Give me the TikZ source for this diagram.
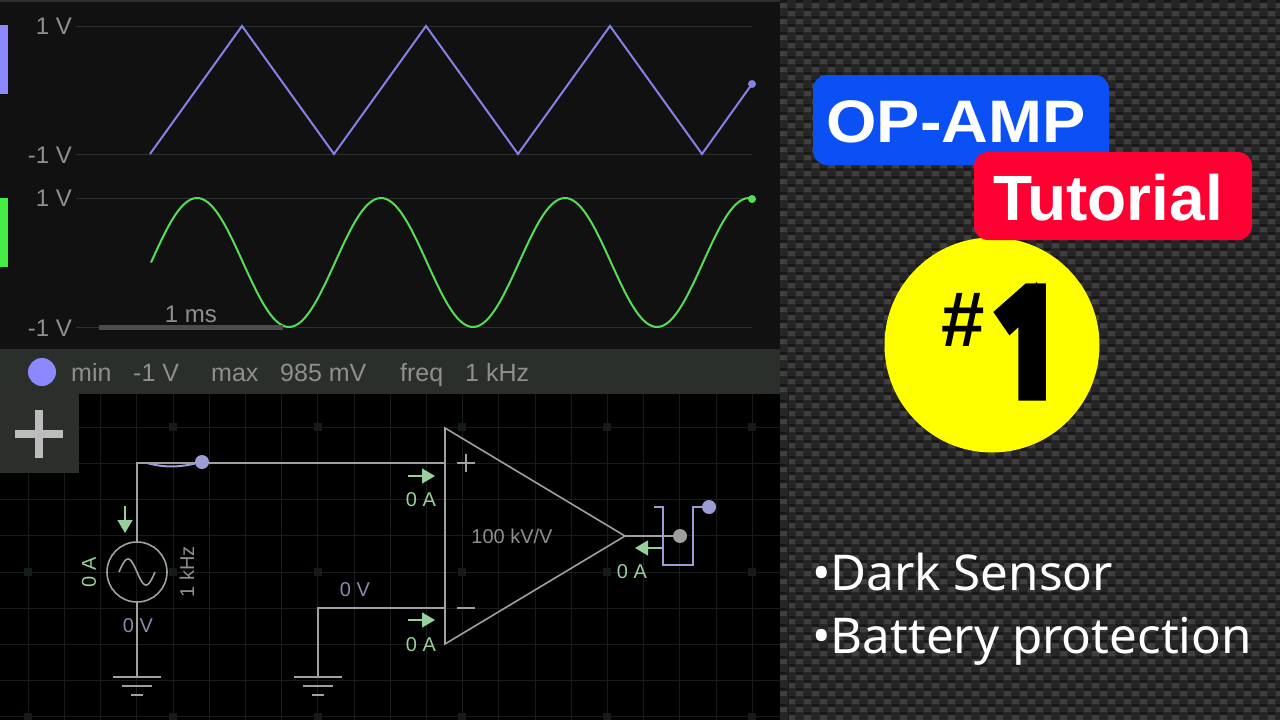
\documentclass[tikz,border=0pt]{standalone}
\usepackage{fontspec}
\setmainfont{Liberation Sans}
\newfontfamily\notofont{Noto Sans}
\newfontfamily\onefont[FakeBold=14]{Noto Sans}
\usetikzlibrary{arrows.meta}

\definecolor{scopebg}{HTML}{111111}
\definecolor{barbg}{HTML}{2B2F2C}
\definecolor{plusbg}{HTML}{2C2F2C}
\definecolor{gridln}{HTML}{191C19}
\definecolor{griddot}{HTML}{151B18}
\definecolor{scopeln}{HTML}{2E2E2E}
\definecolor{txtgray}{HTML}{8E908E}
\definecolor{wiregray}{HTML}{A0A0A0}
\definecolor{triwave}{HTML}{8482E6}
\definecolor{sinewave}{HTML}{55DD55}
\definecolor{tabpurple}{HTML}{8C88FF}
\definecolor{tabgreen}{HTML}{44EE44}
\definecolor{probe}{HTML}{9C9CD6}
\definecolor{probetxt}{HTML}{8A8AAE}
\definecolor{ampgreen}{HTML}{98D09C}
\definecolor{carbonA}{HTML}{262626}
\definecolor{carbonB}{HTML}{404040}
\definecolor{carbonC}{HTML}{181818}
\definecolor{badgeblue}{HTML}{0B50F5}
\definecolor{badgered}{HTML}{FF0033}
\definecolor{bigyellow}{HTML}{FFFF00}

\newcommand{\pxfont}[1]{\fontsize{#1}{#1}\selectfont}

\tikzset{
	wire/.style={draw=wiregray, line width=1.6pt},
	probewire/.style={draw=probe, line width=1.6pt},
	ampflow/.style={draw=ampgreen, fill=ampgreen, line width=1.2pt, -{Triangle[length=13pt,width=15pt]}},
	scopetxt/.style={inner sep=0pt, text=txtgray, font=\pxfont{24}},
	stattxt/.style={inner sep=0pt, anchor=base west, text=txtgray, font=\pxfont{25}},
	circtxt/.style={inner sep=0pt, text=txtgray, font=\pxfont{20}},
	amptxt/.style={inner sep=0pt, text=ampgreen, font=\pxfont{20}},
	volttxt/.style={inner sep=0pt, text=probetxt, font=\pxfont{20}},
	dot/.style={circle, inner sep=0pt, minimum size=14pt, fill=probe},
	groundln/.style={draw=wiregray, line width=1.6pt},
	listtxt/.style={inner sep=0pt, anchor=base west, text=white, font=\notofont\pxfont{49.3}},
}

\begin{document}
\begin{tikzpicture}[x=1pt, y=-1pt]
	\useasboundingbox (0,0) rectangle (1280,720);
	
	% carbon background
	\fill[carbonA] (780,0) rectangle (1280,720);
	\fill[carbonC] foreach \i in {0,...,31} { foreach \j in {0,...,90} {
		({780+16*\i+mod(\j,2)*8},{8*\j}) rectangle ++(7,3) }};
	\fill[carbonB] foreach \i in {0,...,31} { foreach \j in {0,...,90} {
		({780+16*\i+mod(\j,2)*8},{8*\j+3}) rectangle ++(7,5) }};
	
	% scope panels
	\fill[scopebg] (0,0) rectangle (780,349);
	\fill[scopeln] (0,0) rectangle (780,2);
	\fill[barbg] (0,349) rectangle (780,394);
	\fill[black] (0,394) rectangle (780,720);
	
	% grid of the circuit
	\foreach \i in {0,...,21} {
		\draw[gridln] ({28+36.2*\i},394) -- ({28+36.2*\i},720);
	}
	\foreach \j in {0,...,8} {
		\draw[gridln] (0,{427+36.2*\j}) -- (780,{427+36.2*\j});
	}
	\foreach \i in {0,...,5} {
		\foreach \j in {0,1,2} {
			\fill[griddot] ({28+144.8*\i-4},{427+144.8*\j-4}) rectangle ++(8,8);
		}
	}
	\fill[plusbg] (0,394) rectangle (79,473);
	\fill[white!68!plusbg] (15,430) rectangle (63,438);
	\fill[white!68!plusbg] (35,410) rectangle (43,458);
	
	% scope lines
	\foreach \y in {26,154,198,327} {
		\draw[scopeln] (76,\y) -- (752,\y);
	}
	\fill[tabpurple] (0,25) rectangle (8,94);
	\fill[tabgreen] (0,198) rectangle (8,267);
	\node[scopetxt, anchor=east] (lblA) at (72,26) {1 V};
	\node[scopetxt, anchor=east] (lblB) at (72,155) {-1 V};
	\node[scopetxt, anchor=east] (lblC) at (72,198) {1 V};
	\node[scopetxt, anchor=east] (lblD) at (72,328) {-1 V};
	
	\draw[triwave, line width=2pt] (150,154) -- (242,26) -- (334,154) -- (426,26) -- (518,154) -- (610,26) -- (702,154) -- (752,84);
	\node[circle, inner sep=0pt, minimum size=8pt, fill=triwave] (triend) at (752,84) {};
	
	\draw[sinewave, line width=2pt, domain=151:751, samples=200, smooth] plot (\x, {262.5-64.5*sin((\x-151)/184*360)});
	\node[circle, inner sep=0pt, minimum size=8pt, fill=sinewave] (sineend) at (752,199) {};
	
	\fill[black!70!white] (99,325) rectangle (283,330);
	\node[scopetxt] (timelbl) at (191,314) {1 ms};
	
	% status bar
	\node[circle, inner sep=0pt, minimum size=28pt, fill=tabpurple] (statdot) at (42,372) {};
	\node[stattxt] (minlbl) at (71,381) {min};
	\node[stattxt] (minval) at (133,381) {-1 V};
	\node[stattxt] (maxlbl) at (211,381) {max};
	\node[stattxt] (maxval) at (280,381) {985 mV};
	\node[stattxt] (freqlbl) at (400,381) {freq};
	\node[stattxt] (freqval) at (465,381) {1 kHz};
	
	% source
	\node[circle, draw=wiregray, line width=1.6pt, minimum size=60pt, inner sep=0pt] (src) at (137,572) {};
	\draw[wire, domain=-18:18, samples=40, smooth] plot ({137+\x}, {572+13*sin(\x/18*180)});
	\coordinate (gndA) at (137,677);
	\coordinate (gndB) at (318,677);
	
	% op amp
	\coordinate (ampa) at (445,428);
	\coordinate (ampb) at (445,644);
	\coordinate (ampout) at (625,536);
	\coordinate (pinp) at (445,463);
	\coordinate (pinm) at (445,608);
	\draw[wire] (ampa) -- (ampb) -- (ampout) -- cycle;
	\draw[wiregray, line width=1.2pt] (457,463) -- (475,463);
	\draw[wiregray, line width=1.2pt] (466,454) -- (466,472);
	\draw[wiregray, line width=1.2pt] (457,608) -- (475,608);
	\node[circtxt] (gainlbl) at (512,536) {100 kV/V};
	
	% wires
	\draw[wire] (gndA) -- (src.south);
	\draw[wire] (src.north) |- (pinp);
	\draw[wire] (gndB) |- (pinm);
	
	% ground symbols
	\foreach \g in {gndA,gndB} {
		\draw[groundln] ([xshift=-24pt]\g) -- ([xshift=24pt]\g);
		\draw[groundln] ([xshift=-15pt,yshift=-9pt]\g) -- ([xshift=15pt,yshift=-9pt]\g);
		\draw[groundln] ([xshift=-6pt,yshift=-18pt]\g) -- ([xshift=6pt,yshift=-18pt]\g);
	}
	
	% probes
	\node[dot] (probein) at (202,462) {};
	\draw[probe, line width=2pt] (147,463) .. controls (165,468) and (180,467) .. (probein);
	\node[dot, fill=white!62!black] (probeout) at (680,536) {};
	\node[dot] (probeend) at (709,507) {};
	\draw[wire] (ampout) -- (probeout);
	\coordinate (scopeL) at (654,507);
	\draw[probewire] (scopeL) -| (663,565) -| (693,507) -- (probeend);
	
	% currents
	\coordinate (flowAa) at (125,506);
	\coordinate (flowAb) at (125,533);
	\coordinate (flowBa) at (408,476);
	\coordinate (flowBb) at (435,476);
	\coordinate (flowCa) at (408,620);
	\coordinate (flowCb) at (435,620);
	\coordinate (flowDa) at (662,548);
	\coordinate (flowDb) at (635,548);
	\draw[ampflow] (flowAa) -- (flowAb);
	\draw[ampflow] (flowBa) -- (flowBb);
	\draw[ampflow] (flowCa) -- (flowCb);
	\draw[ampflow] (flowDa) -- (flowDb);
	
	\node[amptxt, rotate=90] (srcamp) at (89,572) {0 A};
	\node[circtxt, rotate=90] (srcfreq) at (187,572) {1 kHz};
	\node[volttxt] (srcvolt) at (138,626) {0 V};
	\node[volttxt] (gndvolt) at (355,590) {0 V};
	\node[amptxt] (pamp) at (421,500) {0 A};
	\node[amptxt] (mamp) at (421,645) {0 A};
	\node[amptxt] (outamp) at (632,572) {0 A};
	
	% badges
	\node[circle, fill=bigyellow, inner sep=0pt, minimum size=215pt] (bigdot) at (992,345) {};
	\fill[badgeblue, rounded corners=14pt] (813,75) rectangle (1109,165);
	\fill[badgered, rounded corners=14pt] (974,152) rectangle (1252,240);
	\node[inner sep=0pt, text=white, font=\pxfont{60}\bfseries, xscale=1.08] (optxt) at (956,122) {OP-AMP};
	\node[inner sep=0pt, text=white, font=\pxfont{64}\bfseries] (tuttxt) at (1108,198) {Tutorial};
	\node[inner sep=0pt, text=black, font=\pxfont{78}\bfseries] (hashtxt) at (963,320) {\#};
	\node[inner sep=0pt, text=black, font=\onefont\pxfont{137}, xscale=0.88] (onetxt) at (1029,342) {1};
	
	% list
	\node[listtxt] (listA) at (812,590) {•Dark Sensor};
	\node[listtxt] (listB) at (812,653) {•Battery protection};
\end{tikzpicture}
\end{document}
